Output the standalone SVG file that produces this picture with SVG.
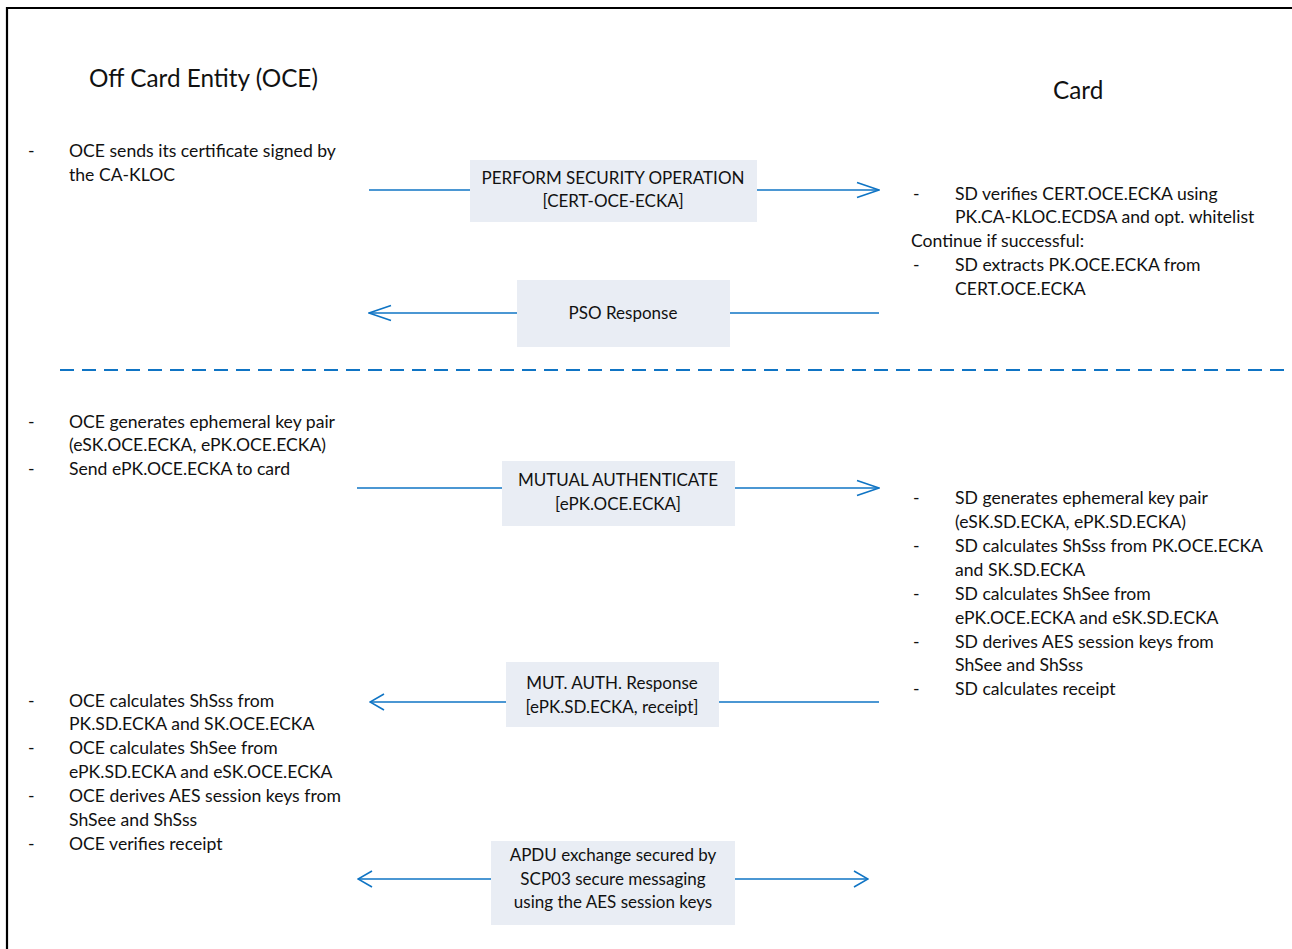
<svg xmlns="http://www.w3.org/2000/svg" width="1292" height="949" viewBox="0 0 1292 949">
  <style>
    text { font-family: Lato, "Open Sans", "Liberation Sans", sans-serif; fill: #111; }
    .t { font-size: 17.6px; }
    .b { font-size: 17px; text-anchor: middle; }
    .title { font-size: 24.3px; }
    .box { fill: #E9EDF4; }
    .flow { stroke: #0F74C4; stroke-width: 1.6; fill: none; }
    .sep { stroke: #0F74C4; stroke-width: 2.2; stroke-dasharray: 14 8; fill: none; }
  </style>
  <defs>
    <marker id="open" viewBox="0 0 24 18" refX="23" refY="9" markerWidth="24" markerHeight="18" markerUnits="userSpaceOnUse" orient="auto-start-reverse">
      <path d="M1,1.5 L23,9 L1,16.5" fill="none" stroke="#0F74C4" stroke-width="1.6"/>
    </marker>
    <marker id="small" viewBox="0 0 16 18" refX="15" refY="9" markerWidth="16" markerHeight="18" markerUnits="userSpaceOnUse" orient="auto-start-reverse">
      <path d="M1,1 L15,9 L1,17" fill="none" stroke="#0F74C4" stroke-width="1.6"/>
    </marker>
  </defs>

  <rect width="1292" height="949" fill="#fff"/>
  <!-- frame: only left and top edges fall inside the canvas -->
  <path d="M7,949 V8 H1292" fill="none" stroke="#000" stroke-width="2.2"/>

  <!-- column headings -->
  <text class="title" x="89" y="87">Off Card Entity (OCE)</text>
  <text class="title" x="1053" y="99">Card</text>

  <!-- connectors -->
  <g id="connectors">
    <line class="flow" x1="369" y1="190" x2="879" y2="190" marker-end="url(#open)"/>
    <line class="flow" x1="369" y1="313" x2="879" y2="313" marker-start="url(#open)"/>
    <line class="sep" x1="60" y1="370" x2="1300" y2="370"/>
    <line class="flow" x1="357" y1="488" x2="879" y2="488" marker-end="url(#open)"/>
    <line class="flow" x1="370" y1="702" x2="879" y2="702" marker-start="url(#small)"/>
    <line class="flow" x1="358" y1="879" x2="868" y2="879" marker-start="url(#small)" marker-end="url(#small)"/>
  </g>

  <!-- message boxes -->
  <g id="pso">
    <rect class="box" x="470" y="160" width="287" height="62"/>
    <text class="b" x="613" y="184">PERFORM SECURITY OPERATION</text>
    <text class="b" x="613" y="207">[CERT-OCE-ECKA]</text>
  </g>
  <g id="pso-response">
    <rect class="box" x="517" y="280" width="213" height="67"/>
    <text class="b" x="623" y="319">PSO Response</text>
  </g>
  <g id="mutual-auth">
    <rect class="box" x="502" y="461" width="233" height="65"/>
    <text class="b" x="618" y="486">MUTUAL AUTHENTICATE</text>
    <text class="b" x="618" y="510">[ePK.OCE.ECKA]</text>
  </g>
  <g id="mutual-auth-response">
    <rect class="box" x="506" y="662" width="213" height="65"/>
    <text class="b" x="612" y="689">MUT. AUTH. Response</text>
    <text class="b" x="612" y="713">[ePK.SD.ECKA, receipt]</text>
  </g>
  <g id="apdu-exchange">
    <rect class="box" x="491" y="841" width="244" height="84"/>
    <text class="b" x="613" y="861">APDU exchange secured by</text>
    <text class="b" x="613" y="885">SCP03 secure messaging</text>
    <text class="b" x="613" y="908">using the AES session keys</text>
  </g>

  <!-- off-card steps -->
  <g id="oce-cert">
    <text class="t" x="28" y="157">-</text>
    <text class="t" x="69" y="157">OCE sends its certificate signed by</text>
    <text class="t" x="69" y="181">the CA-KLOC</text>
  </g>
  <g id="oce-keygen">
    <text class="t" x="28" y="428">-</text>
    <text class="t" x="69" y="428">OCE generates ephemeral key pair</text>
    <text class="t" x="69" y="451">(eSK.OCE.ECKA, ePK.OCE.ECKA)</text>
    <text class="t" x="28" y="475">-</text>
    <text class="t" x="69" y="475">Send ePK.OCE.ECKA to card</text>
  </g>
  <g id="oce-derive">
    <text class="t" x="28" y="707">-</text>
    <text class="t" x="69" y="707">OCE calculates ShSss from</text>
    <text class="t" x="69" y="730">PK.SD.ECKA and SK.OCE.ECKA</text>
    <text class="t" x="28" y="754">-</text>
    <text class="t" x="69" y="754">OCE calculates ShSee from</text>
    <text class="t" x="69" y="778">ePK.SD.ECKA and eSK.OCE.ECKA</text>
    <text class="t" x="28" y="802">-</text>
    <text class="t" x="69" y="802">OCE derives AES session keys from</text>
    <text class="t" x="69" y="826">ShSee and ShSss</text>
    <text class="t" x="28" y="850">-</text>
    <text class="t" x="69" y="850">OCE verifies receipt</text>
  </g>

  <!-- card steps -->
  <g id="card-verify">
    <text class="t" x="913" y="200">-</text>
    <text class="t" x="955" y="200">SD verifies CERT.OCE.ECKA using</text>
    <text class="t" x="955" y="223">PK.CA-KLOC.ECDSA and opt. whitelist</text>
    <text class="t" x="911" y="247">Continue if successful:</text>
    <text class="t" x="913" y="271">-</text>
    <text class="t" x="955" y="271">SD extracts PK.OCE.ECKA from</text>
    <text class="t" x="955" y="295">CERT.OCE.ECKA</text>
  </g>
  <g id="card-derive">
    <text class="t" x="913" y="504">-</text>
    <text class="t" x="955" y="504">SD generates ephemeral key pair</text>
    <text class="t" x="955" y="528">(eSK.SD.ECKA, ePK.SD.ECKA)</text>
    <text class="t" x="913" y="552">-</text>
    <text class="t" x="955" y="552">SD calculates ShSss from PK.OCE.ECKA</text>
    <text class="t" x="955" y="576">and SK.SD.ECKA</text>
    <text class="t" x="913" y="600">-</text>
    <text class="t" x="955" y="600">SD calculates ShSee from</text>
    <text class="t" x="955" y="624">ePK.OCE.ECKA and eSK.SD.ECKA</text>
    <text class="t" x="913" y="648">-</text>
    <text class="t" x="955" y="648">SD derives AES session keys from</text>
    <text class="t" x="955" y="671">ShSee and ShSss</text>
    <text class="t" x="913" y="695">-</text>
    <text class="t" x="955" y="695">SD calculates receipt</text>
  </g>
</svg>
